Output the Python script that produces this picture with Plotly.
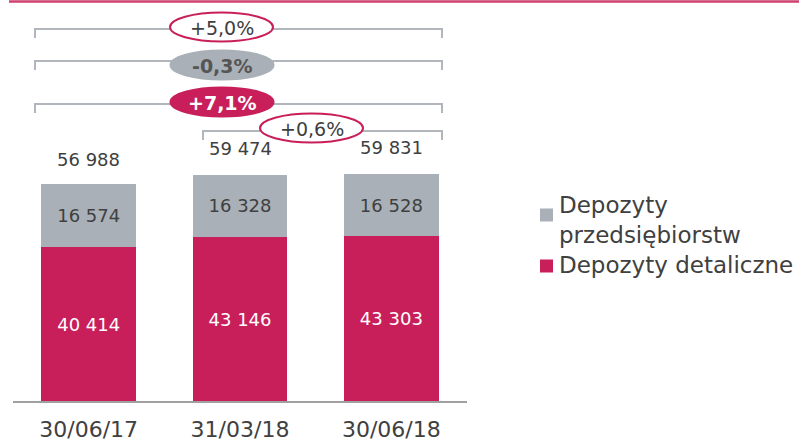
import plotly.graph_objects as go

categories = ["30/06/17", "31/03/18", "30/06/18"]
retail = [40414, 43146, 43303]          # Depozyty detaliczne
corporate = [16574, 16328, 16528]       # Depozyty przedsiębiorstw
totals = [56988, 59474, 59831]
total_labels = ["56 988", "59 474", "59 831"]
retail_labels = ["40 414", "43 146", "43 303"]
corporate_labels = ["16 574", "16 328", "16 528"]
changes = ["+5,0%", "-0,3%", "+7,1%", "+0,6%"]

CRIMSON = "#C81F5A"
GREY = "#A9B0B7"
TEXT = "#404040"
FONT = "DejaVu Sans"

W, H = 799, 443
ML, MR, MT, MB = 13, 332, 0, 42
YMAX = 105500
x = list(range(len(categories)))

def px_x(p):
    return -0.5 + (p - ML) * 3 / (W - ML - MR)

def px_y(p):
    return (H - MB - p) * YMAX / (H - MT - MB)

fig = go.Figure()
fig.add_trace(go.Bar(x=x, y=retail, marker=dict(color=CRIMSON, line=dict(width=0)),
                     text=retail_labels, textposition="inside", insidetextanchor="middle",
                     textfont=dict(color="white", size=18, family=FONT),
                     width=0.627, name="Depozyty detaliczne", showlegend=False, hoverinfo="skip"))
fig.add_trace(go.Bar(x=x, y=corporate, marker=dict(color=GREY, line=dict(width=0)),
                     text=corporate_labels, textposition="inside", insidetextanchor="middle",
                     textfont=dict(color=TEXT, size=18, family=FONT),
                     width=0.627, name="Depozyty przedsiębiorstw", showlegend=False, hoverinfo="skip"))

fig.update_layout(barmode="stack", width=W, height=H,
                  margin=dict(l=ML, r=MR, t=MT, b=MB, pad=0),
                  plot_bgcolor="white", paper_bgcolor="white",
                  xaxis=dict(range=[-0.5, 2.5], tickvals=x, ticktext=categories, showgrid=False,
                             zeroline=False, showline=True, linecolor="#A0A0A0", linewidth=1.5,
                             ticks="", ticklabelstandoff=8, automargin=False,
                             tickfont=dict(size=22, color=TEXT, family=FONT), fixedrange=True),
                  yaxis=dict(range=[0, YMAX], visible=False, fixedrange=True))

shapes = []
annotations = []

# total labels above bars
for i, t in enumerate(totals):
    annotations.append(dict(x=i, y=t, text=total_labels[i], showarrow=False, yanchor="bottom",
                            yshift=12 if i == 0 else 14, font=dict(size=18, color=TEXT, family=FONT)))

# top decorative line
shapes.append(dict(type="line", xref="paper", yref="paper", x0=(9 - ML) / (W - ML - MR), x1=1 + MR / (W - ML - MR),
                   y0=px_y(1.5) / YMAX, y1=px_y(1.5) / YMAX, line=dict(color="#D0406F", width=2.5)))

# brackets: (left px, right px, line y px, ellipse center x px, ellipse center y px, style)
brackets = [
    (35, 442, 29, 221.5, 27, "outline"),
    (35, 442, 61, 222, 65, "grey"),
    (35, 442, 104, 222, 102, "crimson"),
    (203, 442, 131, 311.5, 128, "outline"),
]
BR = "#B0B6BC"
for (xl, xr, yl, cx, cy, style), label in zip(brackets, changes):
    y0 = px_y(yl)
    y1 = px_y(yl + 9)
    shapes.append(dict(type="path", xref="x", yref="y",
                       path=f"M {px_x(xl)},{y1} L {px_x(xl)},{y0} L {px_x(xr)},{y0} L {px_x(xr)},{y1}",
                       line=dict(color=BR, width=2)))
    if style == "outline":
        fill, lc, fc, bold = "white", CRIMSON, TEXT, False
    elif style == "grey":
        fill, lc, fc, bold = GREY, GREY, "#555555", True
    else:
        fill, lc, fc, bold = CRIMSON, CRIMSON, "white", True
    shapes.append(dict(type="circle", xref="x", yref="y",
                       x0=px_x(cx - 51.5), x1=px_x(cx + 51.5),
                       y0=px_y(cy + 14.5), y1=px_y(cy - 14.5),
                       fillcolor=fill, line=dict(color=lc, width=2)))
    annotations.append(dict(x=px_x(cx), y=px_y(cy + 1), text=f"<b>{label}</b>" if bold else label,
                            showarrow=False, font=dict(size=19, color=fc, family=FONT)))

# legend (manual)
legend_items = [(GREY, ["Depozyty", "przedsiębiorstw"], 215), (CRIMSON, ["Depozyty detaliczne"], 266)]
for color, lines, ysq in legend_items:
    shapes.append(dict(type="rect", xref="paper", yref="paper",
                       x0=(540 - ML) / (W - ML - MR), x1=(553 - ML) / (W - ML - MR),
                       y0=(H - MB - (ysq + 6.5)) / (H - MT - MB), y1=(H - MB - (ysq - 6.5)) / (H - MT - MB),
                       fillcolor=color, line=dict(width=0)))
    for k, line in enumerate(lines):
        ypx = ysq - 10 + 30 * k if len(lines) > 1 else ysq - 1
        annotations.append(dict(xref="paper", yref="paper", x=(557 - ML) / (W - ML - MR),
                                y=(H - MB - ypx) / (H - MT - MB), xanchor="left", yanchor="middle",
                                text=line, showarrow=False, font=dict(size=23, color=TEXT, family=FONT)))

fig.update_layout(shapes=shapes, annotations=annotations)
fig.write_html("out.html", config={"displayModeBar": False},
               post_script="document.body.style.margin='0';document.body.style.overflow='hidden';")
